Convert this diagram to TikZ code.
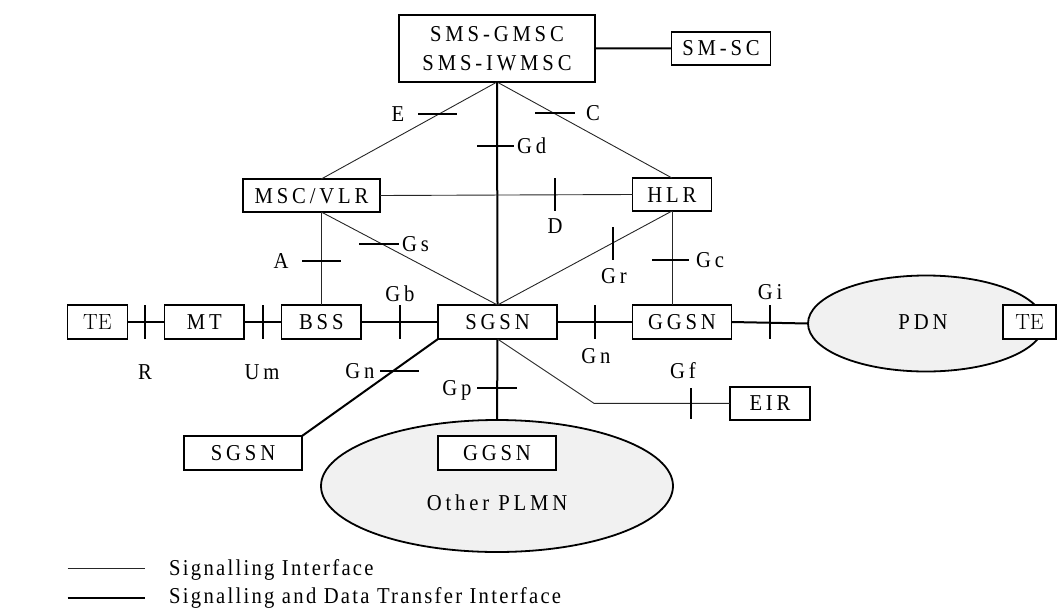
\documentclass[tikz,border=0pt]{standalone}
\usepackage{fontspec}
\newfontfamily\lblfont{Liberation Serif}[FakeStretch=0.91, LetterSpace=17]
\newfontfamily\legfont{Liberation Serif}[FakeStretch=0.91, LetterSpace=10]
\usetikzlibrary{shapes.geometric}
\definecolor{cloud}{RGB}{241,241,241}
\begin{document}
\begin{tikzpicture}[x=1pt,y=-1pt,
  basebox/.style={draw, line width=1.8pt, fill=white, inner sep=0pt, outer sep=0pt,
    font=\fontsize{22.7}{28.5}\selectfont\lblfont},
  box/.style={basebox, text height=15pt, text depth=0pt},
  tebox/.style={box, font=\fontsize{22}{26}\selectfont\rmfamily, text height=15pt},
  cloudshape/.style={ellipse, draw, line width=1.8pt, fill=cloud, inner sep=0pt, outer sep=0pt},
  lbl/.style={inner sep=0pt, font=\fontsize{22.7}{28}\selectfont\lblfont, text height=15pt, text depth=0pt},
  leg/.style={inner sep=0pt, anchor=west, font=\fontsize{22.7}{28}\selectfont\legfont, text height=15pt, text depth=0pt},
  thinline/.style={line width=0.9pt, black!85},
  thickline/.style={line width=2pt, black},
  tick/.style={line width=2pt, black}
]
\useasboundingbox (0,0) rectangle (1057,608);

% clouds
\node[cloudshape, minimum width=236pt, minimum height=96pt] (pdn) at (926,323.5) {};
\node[lbl] (pdnlbl) at (923,322) {PDN};
\node[cloudshape, minimum width=352pt, minimum height=132pt] (plmn) at (497,486) {};
\node[lbl] (plmnlbl) at (497,503) {Other PLMN};

% boxes
\node[basebox, minimum width=196pt, minimum height=67pt, align=center] (smsc) at (497,48.5) {SMS-GMSC\\SMS-IWMSC};
\node[box, minimum width=99pt, minimum height=33pt] (smsc2) at (721,48.3) {SM-SC};
\node[box, minimum width=137pt, minimum height=33pt] (msc) at (311.5,195.5) {MSC/VLR};
\node[box, minimum width=79pt, minimum height=33pt] (hlr) at (672,194.5) {HLR};
\node[box, minimum width=119pt, minimum height=34pt] (sgsn) at (497.5,322) {SGSN};
\node[box, minimum width=99pt, minimum height=34pt] (ggsn) at (682,322) {GGSN};
\node[tebox, minimum width=60pt, minimum height=34pt] (tel) at (97.4,322) {TE};
\node[box, minimum width=79.5pt, minimum height=34pt] (mt) at (204.3,322) {MT};
\node[box, minimum width=79.5pt, minimum height=34pt] (bss) at (321.3,322) {BSS};
\node[tebox, minimum width=53pt, minimum height=34pt] (ter) at (1029.5,322) {TE};
\node[box, minimum width=80pt, minimum height=33pt] (eir) at (770,403.3) {EIR};
\node[box, minimum width=118pt, minimum height=34pt] (sgsn2) at (243,453) {SGSN};
\node[box, minimum width=118pt, minimum height=34pt] (ggsn2) at (497,453) {GGSN};

% ports
\coordinate (mscT) at (bss.north |- msc.north);
\coordinate (mscB) at (bss.north |- msc.south);
\coordinate (gcT) at (hlr.south);
\coordinate (gcB) at (hlr.south |- ggsn.north);
\coordinate (gfbend) at (594,403.3);

% connectors
\draw[thickline] (smsc.east) -- (smsc2.west);
\draw[thinline] (smsc.south) -- (mscT);
\draw[thinline] (smsc.south) -- (hlr.north);
\draw[thickline] (smsc.south) -- (sgsn.north);
\draw[thinline] (msc.east) -- (hlr.west);
\draw[thinline] (mscB) -- (sgsn.north);
\draw[thinline] (mscB) -- (bss.north);
\draw[thinline] (hlr.south) -- (sgsn.north);
\draw[thinline] (gcT) -- (gcB);
\draw[thickline] (tel.east) -- (mt.west);
\draw[thickline] (mt.east) -- (bss.west);
\draw[thickline] (bss.east) -- (sgsn.west);
\draw[thickline] (sgsn.east) -- (ggsn.west);
\draw[thickline] (ggsn.east) -- (pdn.west);
\draw[thickline] (sgsn.south west) -- (sgsn2.north east);
\draw[thickline] (sgsn.south) -- (plmn.north);
\draw[thinline] (sgsn.south) -- (gfbend) -- (eir.west);

% ticks
\draw[tick] (145.4,305) -- (145.4,339);
\draw[tick] (262.5,305) -- (262.5,339);
\draw[tick] (399.5,305) -- (399.5,339);
\draw[tick] (594.5,305) -- (594.5,339);
\draw[tick] (769.5,305) -- (769.5,339);
\draw[tick] (418,113.6) -- (457,113.6);
\draw[tick] (535,113.2) -- (575,113.2);
\draw[tick] (477,146.4) -- (514,146.4);
\draw[tick] (554.5,178) -- (554.5,211);
\draw[tick] (359,244) -- (399,244);
\draw[tick] (302,261) -- (341,261);
\draw[tick] (613,227) -- (613,259.5);
\draw[tick] (652,259.5) -- (689,259.5);
\draw[tick] (380,371) -- (419,371);
\draw[tick] (477,388) -- (517,388);
\draw[tick] (691,388) -- (691,419);

% interface labels
\node[lbl] (lE) at (398,113.6) {E};
\node[lbl] (lC) at (593,113.2) {C};
\node[lbl, anchor=west] (lGd) at (517,146.4) {Gd};
\node[lbl] (lD) at (555,226) {D};
\node[lbl, anchor=west] (lGs) at (402,244) {Gs};
\node[lbl] (lA) at (281,261) {A};
\node[lbl] (lGr) at (614,275.6) {Gr};
\node[lbl, anchor=west] (lGc) at (696,259.5) {Gc};
\node[lbl] (lGb) at (400,294) {Gb};
\node[lbl] (lGi) at (770,292.4) {Gi};
\node[lbl] (lR) at (145,372) {R};
\node[lbl] (lUm) at (262,372) {Um};
\node[lbl] (lGn1) at (360,371) {Gn};
\node[lbl] (lGp) at (457,388) {Gp};
\node[lbl] (lGn2) at (596,355.5) {Gn};
\node[lbl] (lGf) at (683,371) {Gf};

% legend
\coordinate (l1a) at (67.6,568.8);
\coordinate (l1b) at (145,568.8);
\coordinate (l2a) at (67.6,598);
\coordinate (l2b) at (145,598);
\draw[thinline] (l1a) -- (l1b);
\draw[thickline] (l2a) -- (l2b);
\node[leg] (leg1) at (169,567.5) {Signalling Interface};
\node[leg] (leg2) at (169,596) {Signalling and Data Transfer Interface};
\end{tikzpicture}
\end{document}
